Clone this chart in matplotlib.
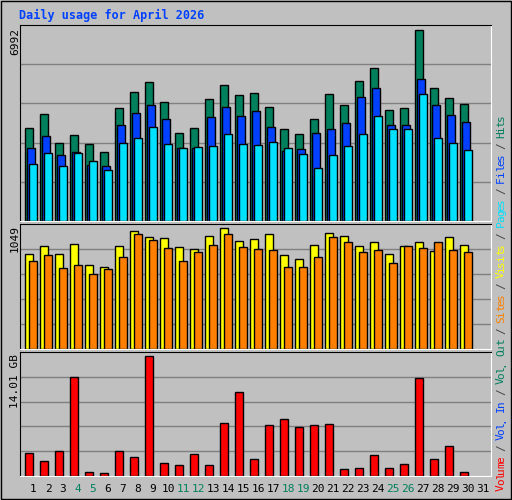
import numpy as np
import matplotlib
matplotlib.use("Agg")
import matplotlib.pyplot as plt

# ---- datos ----
dias = np.arange(1, 31)
etiquetas_dias = [str(d) for d in range(1, 32)]
fin_de_semana = [4, 5, 11, 12, 18, 19, 25, 26]

hits = [3404, 3917, 2855, 3148, 2819, 2526, 4136, 4722, 5088, 4356, 3221, 3404, 4466, 4978, 4612, 4685, 4173, 3368, 3185, 3734, 4649, 4246, 5125, 5601, 4063, 4136, 6992, 4869, 4502, 4283]
files = [2672, 3111, 2416, 2526, 2062, 2013, 3514, 3953, 4246, 3734, 2660, 2684, 3807, 4173, 3843, 4026, 3441, 2562, 2635, 3221, 3368, 3587, 4539, 4869, 3514, 3514, 5198, 4246, 3880, 3624]
pages = [2086, 2489, 2013, 2489, 2196, 1867, 2855, 3038, 3441, 2819, 2672, 2709, 2745, 3185, 2819, 2782, 2892, 2672, 2452, 1940, 2416, 2745, 3185, 3843, 3368, 3368, 4649, 3038, 2855, 2599]
visits = [828, 890, 828, 907, 725, 708, 890, 1020, 969, 960, 883, 866, 983, 1049, 938, 955, 998, 819, 784, 898, 1006, 983, 890, 925, 828, 890, 925, 846, 969, 898]
sites = [759, 819, 699, 725, 647, 690, 801, 996, 942, 872, 767, 837, 898, 996, 883, 866, 858, 709, 709, 801, 967, 932, 837, 858, 750, 890, 872, 925, 858, 840]
volumen = [2.7, 1.72, 2.9, 11.58, 0.51, 0.39, 2.9, 2.27, 14.01, 1.57, 1.33, 2.62, 1.33, 6.14, 9.78, 2.03, 5.91, 6.61, 5.68, 5.91, 6.02, 0.86, 0.98, 2.5, 0.98, 1.45, 11.47, 2.03, 3.56, 0.51]

# ---- estilo ----
GRIS = "#C0C0C0"
C_HITS, C_FILES, C_PAGES = "#00805C", "#0040FF", "#00E0FF"
C_VISITS, C_SITES, C_VOL = "#FFFF00", "#FF8000", "#FF0000"
C_IN, C_OUT = "#0040FF", "#00805C"
W, H = 512, 500

fig = plt.figure(figsize=(W / 100, H / 100), dpi=100, facecolor=GRIS)
mono = "DejaVu Sans Mono"


def eje(x0, y0, x1, y1):
    # coordenadas en pixeles desde arriba a la izquierda
    ax = fig.add_axes([x0 / W, 1 - y1 / H, (x1 - x0) / W, (y1 - y0) / H])
    ax.set_facecolor(GRIS)
    ax.set_xlim(0, x1 - x0)
    ax.set_xticks([])
    ax.set_yticks([])
    for s in ["top", "left"]:
        ax.spines[s].set_color("black")
    for s in ["bottom", "right"]:
        ax.spines[s].set_color("white")
    return ax


def rejilla(ax, n=5):
    lo, hi = ax.get_ylim()
    for k in range(1, n):
        ax.axhline(lo + (hi - lo) * k / n, color="#808080", lw=1, zorder=0)


x0 = 5.3 + 15 * (dias - 1)
ancho = 7.3
borde = dict(edgecolor="black", linewidth=1, align="edge")

# panel de hits / files / pages
ax1 = eje(20, 25, 491, 221)
ax1.set_ylim(0, 6992 * 196 / 191)
rejilla(ax1)
ax1.bar(x0, hits, ancho, color=C_HITS, **borde)
ax1.bar(x0 + 2, files, ancho, color=C_FILES, **borde)
ax1.bar(x0 + 4, pages, ancho, color=C_PAGES, **borde)

# panel de visits / sites
ax2 = eje(20, 224, 491, 349)
ax2.set_ylim(0, 1049 * 124 / 120)
rejilla(ax2)
ax2.bar(x0, visits, ancho, color=C_VISITS, **borde)
ax2.bar(x0 + 4, sites, ancho, color=C_SITES, **borde)

# panel de volumen
ax3 = eje(20, 352, 491, 476)
ax3.set_ylim(0, 14.01 * 123 / 119)
rejilla(ax3)
ax3.bar(x0, volumen, ancho, color=C_VOL, **borde)

# titulo
fig.text(19 / W, 1 - 15 / H, "Daily usage for April 2026", color="#0040FF",
         fontsize=8.5, fontweight="bold", family=mono, va="center")

# etiquetas del eje izquierdo
for txt, ytop in [("6992", 28), ("1049", 225), ("14.01 GB", 354)]:
    fig.text(15 / W, 1 - ytop / H, txt, rotation=90, fontsize=8, family=mono,
             ha="center", va="top")

# dias
for i, d in enumerate(etiquetas_dias):
    col = C_OUT if (i + 1) in fin_de_semana else "black"
    fig.text((33 + 15 * i) / W, 1 - 489 / H, d, fontsize=8, family=mono,
             color=col, ha="center", va="center")

# leyenda vertical derecha
piezas = [("Volume", C_VOL), (" / ", "#404040"), ("Vol. In", C_IN), (" / ", "#404040"),
          ("Vol. Out", C_OUT), (" / ", "#404040"), ("Sites", C_SITES), (" / ", "#404040"),
          ("Visits", C_VISITS), (" / ", "#404040"), ("Pages", C_PAGES), (" / ", "#404040"),
          ("Files", C_FILES), (" / ", "#404040"), ("Hits", C_HITS)]
paso = 5.6
y = 490
for txt, col in piezas:
    for ch in txt:
        if ch != " ":
            fig.text(501 / W, 1 - (y - paso / 2) / H, ch, rotation=90, fontsize=8,
                     family=mono, color=col, ha="center", va="center")
        y -= paso

# marco exterior
fig.patches.append(plt.Rectangle((0.002, 0.002), 0.996, 0.996, transform=fig.transFigure,
                                 fill=False, edgecolor="black", lw=1))

fig.savefig("out.png", dpi=100, facecolor=GRIS)
